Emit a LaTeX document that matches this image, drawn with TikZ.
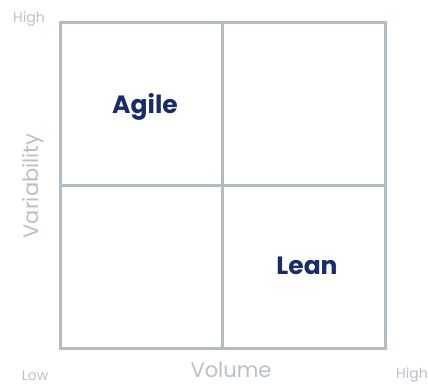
\documentclass[tikz,border=0pt]{standalone}
\usepackage{fontspec}
\setmainfont{Poppins}
\begin{document}
\begin{tikzpicture}[x=1pt,y=-1pt,
  gridline/.style={draw=gridgray,line width=3pt},
  axislabel/.style={text=labelgray,font=\fontsize{21}{24}\selectfont,inner sep=0pt},
  endlabel/.style={text=labelgray,font=\fontsize{14}{16}\selectfont,inner sep=0pt},
  quadlabel/.style={text=navy,font=\fontsize{25}{28}\selectfont\bfseries,inner sep=0pt}]
\definecolor{gridgray}{HTML}{B3BDC8}
\definecolor{labelgray}{HTML}{B8C1CB}
\definecolor{navy}{HTML}{1A2B6B}
\useasboundingbox (0,0) rectangle (428,385);
% quadrant grid
\coordinate (tl) at (60,23);
\coordinate (br) at (385,348);
\draw[gridline] (tl) rectangle (br);
\coordinate (vt) at (222,23);
\coordinate (vb) at (222,348);
\coordinate (hl) at (60,185);
\coordinate (hr) at (385,185);
\draw[gridline] (vt) -- (vb);
\draw[gridline] (hl) -- (hr);
% quadrant names
\node[quadlabel] (agile) at (145,107) {Agile};
\node[quadlabel] (lean) at (307,266) {Lean};
% axes
\node[axislabel] (volume) at (231,370) {Volume};
\node[axislabel,rotate=90] (variability) at (33,186) {Variability};
\node[endlabel] (yhigh) at (29,19) {High};
\node[endlabel] (xlow) at (35,375.5) {Low};
\node[endlabel] (xhigh) at (412,375.5) {High};
\end{tikzpicture}
\end{document}
